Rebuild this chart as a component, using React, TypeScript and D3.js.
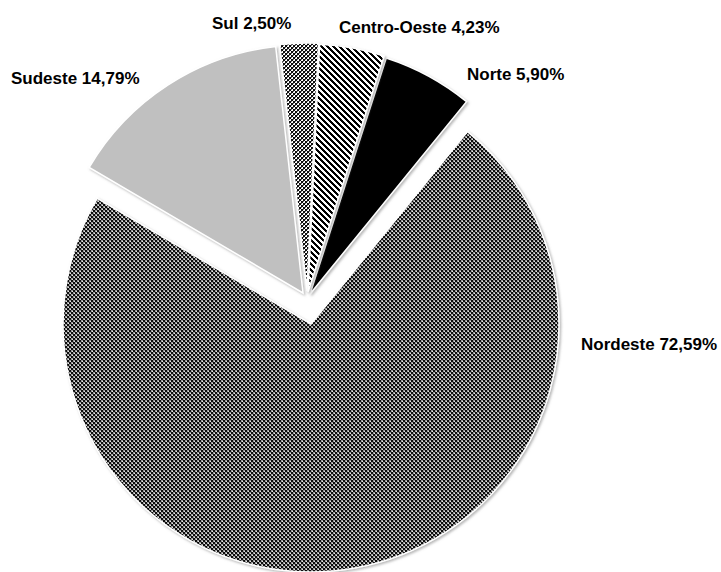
import React from "react";
import * as d3 from "d3";

const regions = ["Norte", "Nordeste", "Sudeste", "Sul", "Centro-Oeste"];
const shares = [5.9, 72.59, 14.79, 2.5, 4.23];
const labelTexts = ["Norte 5,90%", "Nordeste 72,59%", "Sudeste 14,79%", "Sul 2,50%", "Centro-Oeste 4,23%"];

const W = 721;
const H = 572;
const CX = 307;
const CY = 299;
const R = 248;
const START_DEG = 17.9;

const explode: Record<string, number> = {
  Norte: 6,
  Nordeste: 25,
  Sudeste: 7,
  Sul: 8,
  "Centro-Oeste": 7,
};

const fills: Record<string, string> = {
  Norte: "#000000",
  Nordeste: "url(#patNordeste)",
  Sudeste: "#c0c0c0",
  Sul: "url(#patSul)",
  "Centro-Oeste": "url(#patCentro)",
};

const labelPos: Record<string, [number, number]> = {
  Norte: [467, 80],
  Nordeste: [581, 350],
  Sudeste: [11, 84],
  Sul: [212, 29],
  "Centro-Oeste": [339, 33],
};

export default function App() {
  const data = regions.map((r, i) => ({ region: r, value: shares[i], label: labelTexts[i] }));
  const start = (START_DEG * Math.PI) / 180;
  const pie = d3
    .pie<any>()
    .value((d) => d.value)
    .sort(null)
    .startAngle(start)
    .endAngle(start + 2 * Math.PI);
  const arcs = pie(data);
  const arcGen = d3.arc<any>().innerRadius(0).outerRadius(R);

  const diag = [0, 1, 2, 3, 4, 5];

  return (
    <svg
      width={W}
      height={H}
      style={{ position: "absolute", left: 0, top: 0, display: "block", background: "#fff" }}
    >
      <defs>
        <pattern id="patNordeste" width={4} height={4} patternUnits="userSpaceOnUse">
          <rect width={4} height={4} fill="#9a9a9a" />
          <rect x={0} y={0} width={2} height={2} fill="#111" />
          <rect x={2} y={2} width={2} height={2} fill="#111" />
          <rect x={3} y={1} width={1} height={1} fill="#e8e8e8" />
          <rect x={1} y={3} width={1} height={1} fill="#e8e8e8" />
        </pattern>
        <pattern id="patSul" width={4} height={4} patternUnits="userSpaceOnUse">
          <rect width={4} height={4} fill="#ffffff" />
          <rect x={0} y={0} width={2} height={2} fill="#111" />
          <rect x={2} y={2} width={2} height={2} fill="#111" />
          <rect x={2} y={0} width={1} height={1} fill="#777" />
          <rect x={0} y={2} width={1} height={1} fill="#777" />
        </pattern>
        <pattern id="patCentro" width={6} height={6} patternUnits="userSpaceOnUse">
          <rect width={6} height={6} fill="#ffffff" />
          {diag.map((i) => (
            <g key={i}>
              <rect x={i} y={i} width={1} height={1} fill="#000" />
              <rect x={(i + 1) % 6} y={i} width={1} height={1} fill="#000" />
              <rect x={(i + 2) % 6} y={i} width={1} height={1} fill="#000" />
            </g>
          ))}
        </pattern>
        <filter id="shadow" x="-10%" y="-10%" width="120%" height="120%">
          <feDropShadow dx={1.5} dy={1.5} stdDeviation={1.2} floodColor="#888" floodOpacity={0.6} />
        </filter>
      </defs>
      <g transform={`translate(${CX},${CY})`}>
        {arcs.map((a) => {
          const mid = (a.startAngle + a.endAngle) / 2;
          const e = explode[a.data.region] || 0;
          const dx = Math.round(Math.sin(mid) * e);
          const dy = Math.round(-Math.cos(mid) * e);
          return (
            <path
              key={a.data.region}
              d={arcGen(a) || ""}
              transform={`translate(${dx},${dy})`}
              fill={fills[a.data.region]}
              stroke="#ffffff"
              strokeWidth={1.5}
              filter="url(#shadow)"
            />
          );
        })}
      </g>
      <g fontFamily="'Liberation Sans', Arial, sans-serif" fontWeight="bold" fontSize={17} fill="#000">
        {data.map((d) => (
          <text key={d.region} x={labelPos[d.region][0]} y={labelPos[d.region][1]}>
            {d.label}
          </text>
        ))}
      </g>
    </svg>
  );
}
